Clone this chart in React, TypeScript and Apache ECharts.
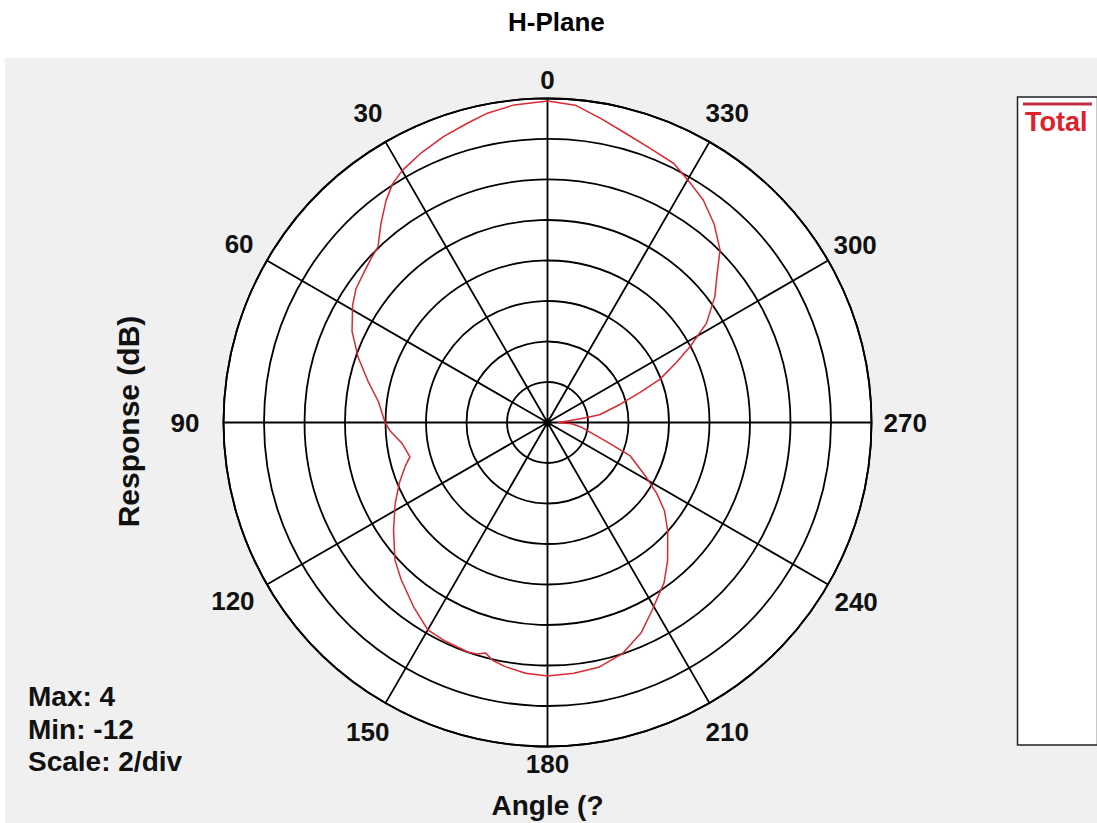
import React, { useEffect, useRef } from "react";
import * as echarts from "echarts";

// Angle (deg, counter-clockwise from top) and response (dB)
const angles = [
  0, 6, 11, 15, 20, 25, 30, 33, 36, 40, 44, 47, 50, 55, 59, 65, 71, 77, 83, 90,
  93, 98, 104, 107, 112, 118, 125, 132, 137, 144, 150, 155, 161, 163, 165, 167,
  170, 175, 180, 186, 192, 198, 204, 209, 216, 221, 228, 233, 237, 241, 248,
  252, 262, 267, 270, 274, 277, 278.5, 284, 288, 291, 295, 298, 302, 307, 311,
  315, 320, 325, 329, 334, 339, 345, 350, 355, 360,
];
const responses = [
  3.88, 3.77, 3.56, 3.3, 3.02, 2.71, 2.36, 2.05, 1.56, 0.8, 0.05, -0.1, -0.26,
  -0.46, -0.77, -1.35, -2.11, -2.9, -3.59, -3.98, -4.21, -4.73, -5.0, -4.66,
  -4.12, -3.48, -2.72, -1.86, -1.4, -0.75, -0.18, -0.08, 0.0, -0.05, -0.21,
  0.05, 0.23, 0.43, 0.52, 0.45, 0.34, 0.0, -0.63, -1.37, -2.21, -2.96, -4.01,
  -4.77, -5.57, -6.42, -7.59, -8.93, -10.3, -10.8, -11.5, -11.0, -10.1, -9.4,
  -8.32, -7.21, -6.06, -4.98, -4.03, -2.74, -1.65, -0.91, 0.05, 0.8, 1.41,
  1.75, 2.23, 2.43, 2.8, 3.24, 3.73, 3.88,
];

const angleTicks = [0, 30, 60, 90, 120, 150, 180, 210, 240, 270, 300, 330];
const radiusMin = -12;
const radiusMax = 4;
const radiusStep = 2;
const seriesName = "Total";
const titleText = "H-Plane";
const radiusTitle = "Response (dB)";
const angleTitle = "Angle (?";
const infoLines = ["Max: 4", "Min: -12", "Scale: 2/div"];

const FONT = "'Liberation Sans', Arial, Helvetica, sans-serif";
const CX = 547.5;
const CY = 422.5;
const R = 324;

// per-label padding [top, right, bottom, left] to place tick labels like the reference
const labelPad: Record<number, number[]> = {
  0: [0, 0, 16, 0],
  30: [0, 8, 25, 0],
  60: [0, 22, 9, 0],
  90: [0, 34, 0, 0],
  120: [8, 21, 0, 0],
  150: [25, 1, 0, 0],
  180: [14, 0, 0, 0],
  210: [25, 0, 0, 1],
  240: [9, 0, 0, 15],
  270: [0, 0, 0, 22],
  300: [0, 0, 8, 14],
  330: [0, 0, 25, 1],
};

export default function App() {
  const ref = useRef<HTMLDivElement>(null);

  useEffect(() => {
    if (!ref.current) return;
    const chart = echarts.init(ref.current, null, { renderer: "svg" });

    const rich: Record<string, any> = {};
    angleTicks.forEach((t) => {
      rich["l" + t] = {
        padding: labelPad[t],
        fontSize: 26,
        fontWeight: "bold",
        fontFamily: FONT,
        color: "#111",
      };
    });

    const gridLine = { color: "#000", width: 1.8 };

    const option: any = {
      animation: false,
      backgroundColor: "#ffffff",
      title: {
        text: titleText,
        left: 508,
        top: 9,
        padding: 0,
        textStyle: {
          fontSize: 26,
          fontWeight: "bold",
          fontFamily: FONT,
          color: "#000",
        },
      },
      legend: {
        data: [seriesName],
        left: 1020,
        top: 108,
        padding: 0,
        icon: "none",
        itemWidth: 0,
        itemHeight: 0,
        selectedMode: false,
        textStyle: {
          fontSize: 27,
          fontWeight: "bold",
          fontFamily: FONT,
          color: "#e0202a",
        },
      },
      polar: {
        center: [CX, CY],
        radius: R,
      },
      angleAxis: {
        type: "value",
        min: 0,
        max: 360,
        interval: 30,
        startAngle: 90,
        clockwise: false,
        axisLine: { show: true, lineStyle: gridLine },
        axisTick: { show: false },
        splitLine: { show: true, lineStyle: gridLine },
        axisLabel: {
          show: true,
          margin: -10,
          fontSize: 26,
          fontWeight: "bold",
          fontFamily: FONT,
          color: "#111",
          formatter: (v: number) => `{l${v}|${v}}`,
          rich,
        },
      },
      radiusAxis: {
        type: "value",
        min: radiusMin,
        max: radiusMax,
        interval: radiusStep,
        axisLine: { show: false },
        axisTick: { show: false },
        axisLabel: { show: false },
        splitLine: { show: true, lineStyle: gridLine },
      },
      series: [
        {
          name: seriesName,
          type: "line",
          coordinateSystem: "polar",
          showSymbol: false,
          symbol: "none",
          data: responses.map((v, i) => [v, angles[i]]),
          lineStyle: { color: "#dc2832", width: 1.5 },
          itemStyle: { color: "#dc2832" },
          z: 5,
        },
        {
          name: "center",
          type: "scatter",
          coordinateSystem: "polar",
          data: [[radiusMin, 0]],
          symbolSize: 8,
          itemStyle: { color: "#000" },
          z: 6,
        },
      ],
      graphic: [
        {
          type: "rect",
          z: -10,
          silent: true,
          shape: { x: 5, y: 58, width: 1092, height: 765 },
          style: { fill: "#f0f0f0" },
        },
        {
          type: "circle",
          z: -8,
          silent: true,
          shape: { cx: CX, cy: CY, r: R },
          style: { fill: "#ffffff" },
        },
        {
          type: "rect",
          z: -5,
          silent: true,
          shape: { x: 1017.5, y: 97, width: 80, height: 648 },
          style: { fill: "#ffffff", stroke: "#222", lineWidth: 1.5 },
        },
        {
          type: "line",
          z: 10,
          silent: true,
          shape: { x1: 1023, y1: 104, x2: 1092, y2: 104 },
          style: { stroke: "#c23040", lineWidth: 3 },
        },
        {
          type: "text",
          z: 10,
          x: 128.5,
          y: 421.5,
          rotation: Math.PI / 2,
          style: {
            text: radiusTitle,
            fontSize: 30,
            fontWeight: "bold",
            fontFamily: FONT,
            fill: "#111",
            align: "center",
            verticalAlign: "middle",
          },
        },
        {
          type: "text",
          z: 10,
          x: 547.5,
          y: 805,
          style: {
            text: angleTitle,
            fontSize: 28,
            fontWeight: "bold",
            fontFamily: FONT,
            fill: "#111",
            align: "center",
            verticalAlign: "middle",
          },
        },
        ...infoLines.map((t, i) => ({
          type: "text",
          z: 10,
          x: 28,
          y: [696, 729, 761][i],
          style: {
            text: t,
            fontSize: 28,
            fontWeight: "bold",
            fontFamily: FONT,
            fill: "#111",
            align: "left",
            verticalAlign: "middle",
          },
        })),
      ],
    };

    chart.setOption(option);
    return () => chart.dispose();
  }, []);

  return (
    <div
      ref={ref}
      style={{ position: "absolute", left: 0, top: 0, width: 1097, height: 823 }}
    />
  );
}
